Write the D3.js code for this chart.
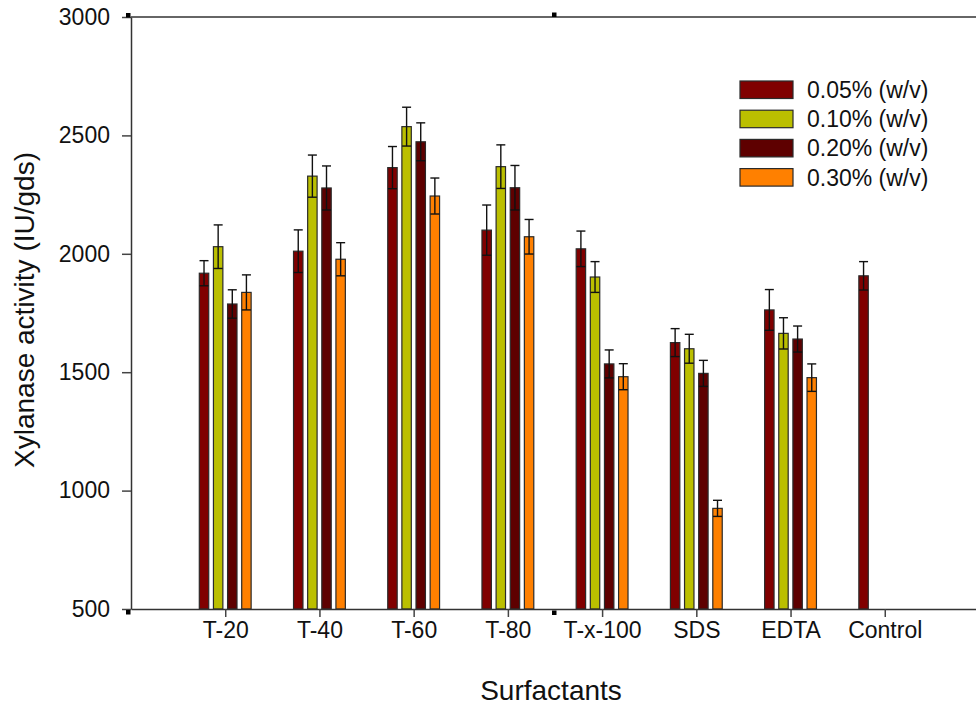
<!DOCTYPE html>
<html>
<head>
<meta charset="utf-8">
<script src="https://cdn.jsdelivr.net/npm/d3@7/dist/d3.min.js"></script>
<style>
html,body{margin:0;padding:0;background:#fff;}
svg{display:block;font-family:"Liberation Sans",Arial,sans-serif;}
</style>
</head>
<body>
<svg id="chart" width="976" height="707"></svg>
<script>
const categories = ["T-20","T-40","T-60","T-80","T-x-100","SDS","EDTA","Control"];
const seriesNames = ["0.05% (w/v)","0.10% (w/v)","0.20% (w/v)","0.30% (w/v)"];
const seriesColors = ["#800000","#bbbf00","#5e0000","#ff8000"];
const values005 = [1918,2011,2364,2100,2021,1625,1763,1907];
const values010 = [2030,2328,2537,2368,1902,1599,1664,null];
const values020 = [1788,2278,2473,2279,1535,1495,1640,null];
const values030 = [1837,1977,2244,2072,1481,925,1477,null];
const errors005 = [53,90,89,106,75,59,86,60];
const errors010 = [92,89,82,92,65,61,66,null];
const errors020 = [60,93,80,94,59,55,55,null];
const errors030 = [74,70,76,73,55,34,58,null];
const yTicks = [500,1000,1500,2000,2500,3000];

(function(){
const seriesValues = [values005,values010,values020,values030];
const seriesErrors = [errors005,errors010,errors020,errors030];

const svg = d3.select("#chart");
const mLeft = 131, mTop = 17, mBottom = 609;
const x = d3.scaleLinear().domain([0,9]).range([mLeft, mLeft + 9*94.22]);
const y = d3.scaleLinear().domain([500,3000]).range([mBottom, mTop]);

const step = 0.15, bw = 0.1;
const bars = [];
seriesValues.forEach((arr,j)=>{
  arr.forEach((v,i)=>{
    if(v==null) return;
    bars.push({i, j, v, e: seriesErrors[j][i]});
  });
});

const g = svg.append("g");
g.selectAll("rect.bar").data(bars).enter().append("rect")
  .attr("class","bar")
  .attr("x", d => x(d.i + 1 + (d.j - 1.5)*step - bw/2))
  .attr("width", d => x(bw) - x(0))
  .attr("y", d => y(d.v))
  .attr("height", d => y(500) - y(d.v))
  .attr("fill", d => seriesColors[d.j])
  .attr("stroke", "#2a2a2a")
  .attr("stroke-width", 1.2);

const eb = g.selectAll("g.err").data(bars).enter().append("g").attr("class","err")
  .attr("stroke","#111").attr("stroke-width",1.4);
eb.append("line")
  .attr("x1", d => x(d.i + 1 + (d.j - 1.5)*step))
  .attr("x2", d => x(d.i + 1 + (d.j - 1.5)*step))
  .attr("y1", d => y(d.v - d.e))
  .attr("y2", d => y(d.v + d.e));
[1,-1].forEach(s=>{
  eb.append("line")
    .attr("x1", d => x(d.i + 1 + (d.j - 1.5)*step) - 4.5)
    .attr("x2", d => x(d.i + 1 + (d.j - 1.5)*step) + 4.5)
    .attr("y1", d => y(d.v + s*d.e))
    .attr("y2", d => y(d.v + s*d.e));
});

const yAxis = d3.axisLeft(y).tickValues(yTicks).tickFormat(d3.format("d")).tickSize(9).tickPadding(12).tickSizeOuter(0);
const ya = svg.append("g").attr("transform",`translate(${mLeft},0)`).call(yAxis);
ya.selectAll("text").attr("font-size",23).attr("fill","#111").attr("font-family","Liberation Sans, Arial, sans-serif");
ya.selectAll("line").attr("stroke","#444").attr("stroke-width",1.5);
ya.select(".domain").attr("stroke","#333").attr("stroke-width",1.5);

const xAxis = d3.axisBottom(x).tickValues(d3.range(1,9)).tickFormat(d=>categories[d-1]).tickSize(8).tickPadding(5).tickSizeOuter(0);
const xa = svg.append("g").attr("transform",`translate(0,${mBottom})`).call(xAxis);
xa.selectAll("text").attr("font-size",23).attr("fill","#111").attr("font-family","Liberation Sans, Arial, sans-serif");
xa.selectAll("line").attr("stroke","#444").attr("stroke-width",1.5);
xa.select(".domain").attr("stroke","#333").attr("stroke-width",1.5);

svg.append("line").attr("x1",mLeft).attr("x2",x(9)).attr("y1",mTop).attr("y2",mTop)
  .attr("stroke","#333").attr("stroke-width",1.5);

[[126,13],[552,12.5],[126,610],[552,610.5]].forEach(p=>{
  svg.append("rect").attr("x",p[0]).attr("y",p[1]).attr("width",4.5).attr("height",4.5).attr("fill","#000");
});

svg.append("text").attr("transform","translate(34,310) rotate(-90)")
  .attr("text-anchor","middle").attr("font-size",28).attr("fill","#111")
  .text("Xylanase activity (IU/gds)");
svg.append("text").attr("x",551).attr("y",700)
  .attr("text-anchor","middle").attr("font-size",28).attr("fill","#111")
  .text("Surfactants");

const lg = svg.append("g");
seriesNames.forEach((n,j)=>{
  const yy = 81 + j*29.2;
  lg.append("rect").attr("x",740).attr("y",yy).attr("width",53).attr("height",17.5)
    .attr("fill",seriesColors[j]).attr("stroke","#2a2a2a").attr("stroke-width",1.2);
  lg.append("text").attr("x",807).attr("y",yy+17).attr("font-size",23).attr("fill","#111").text(n);
});
})();
</script>
</body>
</html>
